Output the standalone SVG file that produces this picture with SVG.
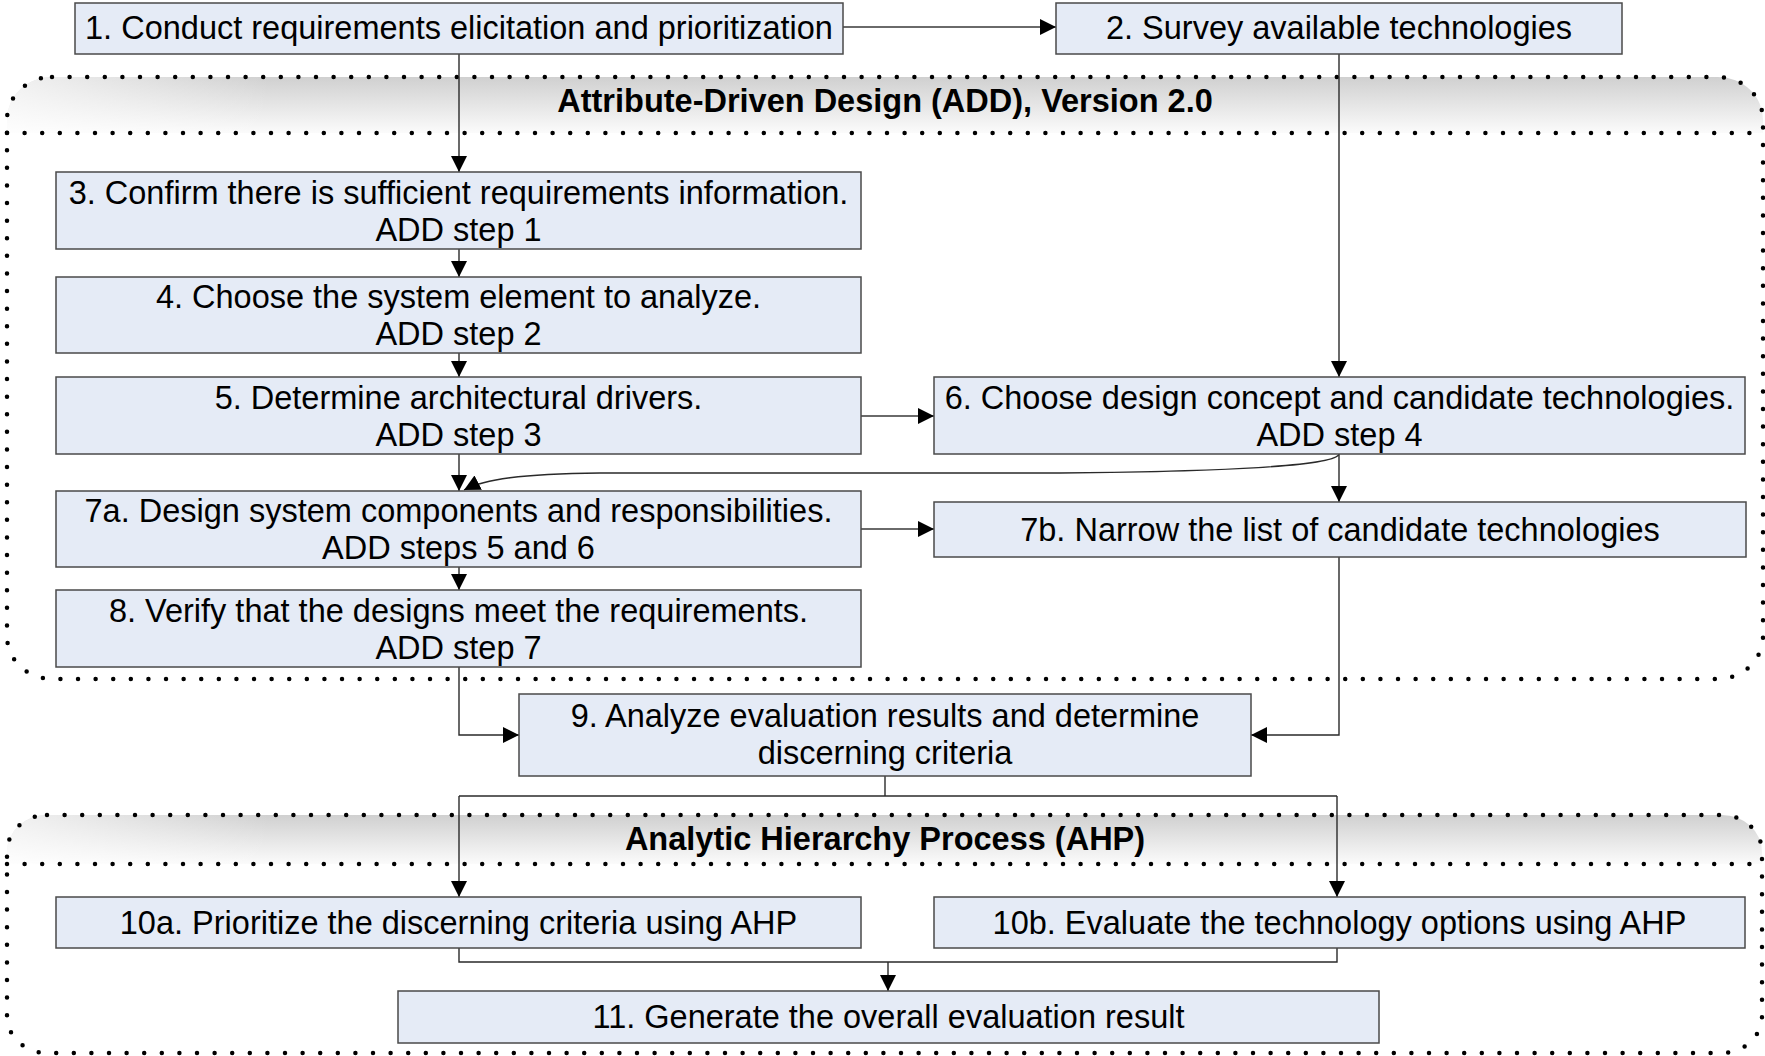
<svg xmlns="http://www.w3.org/2000/svg" width="1765" height="1056" viewBox="0 0 1765 1056">
  <defs>
    <linearGradient id="hdr" x1="0" y1="0" x2="0" y2="1">
      <stop offset="0" stop-color="#d0d0d0"/>
      <stop offset="1" stop-color="#fbfbfb"/>
    </linearGradient>
    <linearGradient id="hdrL" x1="0" y1="0" x2="1" y2="0">
      <stop offset="0" stop-color="#ffffff" stop-opacity="0.7"/>
      <stop offset="0.15" stop-color="#ffffff" stop-opacity="0"/>
    </linearGradient>
    <marker id="arr" markerUnits="userSpaceOnUse" markerWidth="16" markerHeight="16" refX="14" refY="7" orient="auto" viewBox="0 0 14 14">
      <path d="M0,0 L14,7 L0,14 Z" fill="#000"/>
    </marker>
    <style>
      .box { fill: #e5ebf6; stroke: #4a4a4a; stroke-width: 1.5; }
      .t { font-family: "Liberation Sans", Arial, sans-serif; font-size: 32.5px; fill: #000; text-anchor: middle; }
      .h { font-family: "Liberation Sans", Arial, sans-serif; font-size: 32.5px; font-weight: bold; fill: #000; text-anchor: middle; }
      .dot { fill: none; stroke: #000; stroke-width: 4.5; stroke-linecap: round; stroke-dasharray: 0 17.6; }
      .c { fill: none; stroke: #2a2a2a; stroke-width: 1.4; }
      .cg { fill: none; stroke: #6a6a6a; stroke-width: 2; }
    </style>
  </defs>
  <rect width="1765" height="1056" fill="#ffffff"/>

  <!-- Container frames -->
  <g id="add-frame">
    <path d="M7,133 L7,120 A45,43 0 0 1 52,77 L1718,77 A45,43 0 0 1 1763,120 L1763,133 Z" fill="url(#hdr)"/>
    <path d="M7,133 L7,120 A45,43 0 0 1 52,77 L1718,77 A45,43 0 0 1 1763,120 L1763,133 Z" fill="url(#hdrL)"/>
    <path class="dot" d="M52,77 L1718,77 A45,43 0 0 1 1763,120 L1763,636 A45,43 0 0 1 1718,679 L52,679 A45,43 0 0 1 7,636 L7,120 A45,43 0 0 1 52,77"/>
    <path class="dot" d="M7,133 L1763,133"/>
    <text class="h" x="885" y="112">Attribute-Driven Design (ADD), Version 2.0</text>
  </g>
  <g id="ahp-frame">
    <path d="M7,864 L7,852 A40,37 0 0 1 47,815 L1722,815 A40,37 0 0 1 1762,852 L1762,864 Z" fill="url(#hdr)"/>
    <path d="M7,864 L7,852 A40,37 0 0 1 47,815 L1722,815 A40,37 0 0 1 1762,852 L1762,864 Z" fill="url(#hdrL)"/>
    <path class="dot" d="M47,815 L1722,815 A40,37 0 0 1 1762,852 L1762,1016 A40,37 0 0 1 1722,1053 L47,1053 A40,37 0 0 1 7,1016 L7,852 A40,37 0 0 1 47,815"/>
    <path class="dot" d="M7,864 L1762,864"/>
    <text class="h" x="885" y="850">Analytic Hierarchy Process (AHP)</text>
  </g>

  <!-- Connectors -->
  <g id="connectors">
    <path class="cg" d="M843,27 L1056,27" marker-end="url(#arr)"/>
    <path class="c" d="M459,54 L459,172" marker-end="url(#arr)"/>
    <path class="c" d="M1339,54 L1339,377" marker-end="url(#arr)"/>
    <path class="c" d="M459,249 L459,277" marker-end="url(#arr)"/>
    <path class="c" d="M459,353 L459,377" marker-end="url(#arr)"/>
    <path class="cg" d="M861,416 L934,416" marker-end="url(#arr)"/>
    <path class="c" d="M459,454 L459,491" marker-end="url(#arr)"/>
    <path class="c" d="M1339,454 L1339,502" marker-end="url(#arr)"/>
    <path class="c" d="M1339,454 C1336,468 1180,472 1060,473 L600,473 C520,474 485,479 464,490" marker-end="url(#arr)"/>
    <path class="cg" d="M861,529 L934,529" marker-end="url(#arr)"/>
    <path class="c" d="M459,567 L459,590" marker-end="url(#arr)"/>
    <path class="c" d="M459,667 L459,735 L519,735" marker-end="url(#arr)"/>
    <path class="c" d="M1339,557 L1339,735 L1251,735" marker-end="url(#arr)"/>
    <path class="c" d="M885,776 L885,796"/>
    <path class="c" d="M459,796 L1337,796"/>
    <path class="c" d="M459,796 L459,897" marker-end="url(#arr)"/>
    <path class="c" d="M1337,796 L1337,897" marker-end="url(#arr)"/>
    <path class="c" d="M459,948 L459,962 L1337,962 L1337,948"/>
    <path class="c" d="M888,962 L888,991" marker-end="url(#arr)"/>
  </g>

  <!-- Nodes -->
  <g id="n1">
    <rect class="box" x="75" y="3" width="768" height="51"/>
    <text class="t" x="459" y="39">1. Conduct requirements elicitation and prioritization</text>
  </g>
  <g id="n2">
    <rect class="box" x="1056" y="3" width="566" height="51"/>
    <text class="t" x="1339" y="39">2. Survey available technologies</text>
  </g>
  <g id="n3">
    <rect class="box" x="56" y="172" width="805" height="77"/>
    <text class="t" x="458.5" y="204">3. Confirm there is sufficient requirements information.<tspan x="458.5" dy="37">ADD step 1</tspan></text>
  </g>
  <g id="n4">
    <rect class="box" x="56" y="277" width="805" height="76"/>
    <text class="t" x="458.5" y="308">4. Choose the system element to analyze.<tspan x="458.5" dy="37">ADD step 2</tspan></text>
  </g>
  <g id="n5">
    <rect class="box" x="56" y="377" width="805" height="77"/>
    <text class="t" x="458.5" y="408.5">5. Determine architectural drivers.<tspan x="458.5" dy="37">ADD step 3</tspan></text>
  </g>
  <g id="n6">
    <rect class="box" x="934" y="377" width="811" height="77"/>
    <text class="t" x="1339.5" y="408.5">6. Choose design concept and candidate technologies.<tspan x="1339.5" dy="37">ADD step 4</tspan></text>
  </g>
  <g id="n7a">
    <rect class="box" x="56" y="491" width="805" height="76"/>
    <text class="t" x="458.5" y="522">7a. Design system components and responsibilities.<tspan x="458.5" dy="37">ADD steps 5 and 6</tspan></text>
  </g>
  <g id="n7b">
    <rect class="box" x="934" y="502" width="812" height="55"/>
    <text class="t" x="1340" y="541">7b. Narrow the list of candidate technologies</text>
  </g>
  <g id="n8">
    <rect class="box" x="56" y="590" width="805" height="77"/>
    <text class="t" x="458.5" y="621.5">8. Verify that the designs meet the requirements.<tspan x="458.5" dy="37">ADD step 7</tspan></text>
  </g>
  <g id="n9">
    <rect class="box" x="519" y="694" width="732" height="82"/>
    <text class="t" x="885" y="727">9. Analyze evaluation results and determine<tspan x="885" dy="37">discerning criteria</tspan></text>
  </g>
  <g id="n10a">
    <rect class="box" x="56" y="897" width="805" height="51"/>
    <text class="t" x="458.5" y="933.5">10a. Prioritize the discerning criteria using AHP</text>
  </g>
  <g id="n10b">
    <rect class="box" x="934" y="897" width="811" height="51"/>
    <text class="t" x="1339.5" y="933.5">10b. Evaluate the technology options using AHP</text>
  </g>
  <g id="n11">
    <rect class="box" x="398" y="991" width="981" height="52"/>
    <text class="t" x="888.5" y="1028">11. Generate the overall evaluation result</text>
  </g>
</svg>
